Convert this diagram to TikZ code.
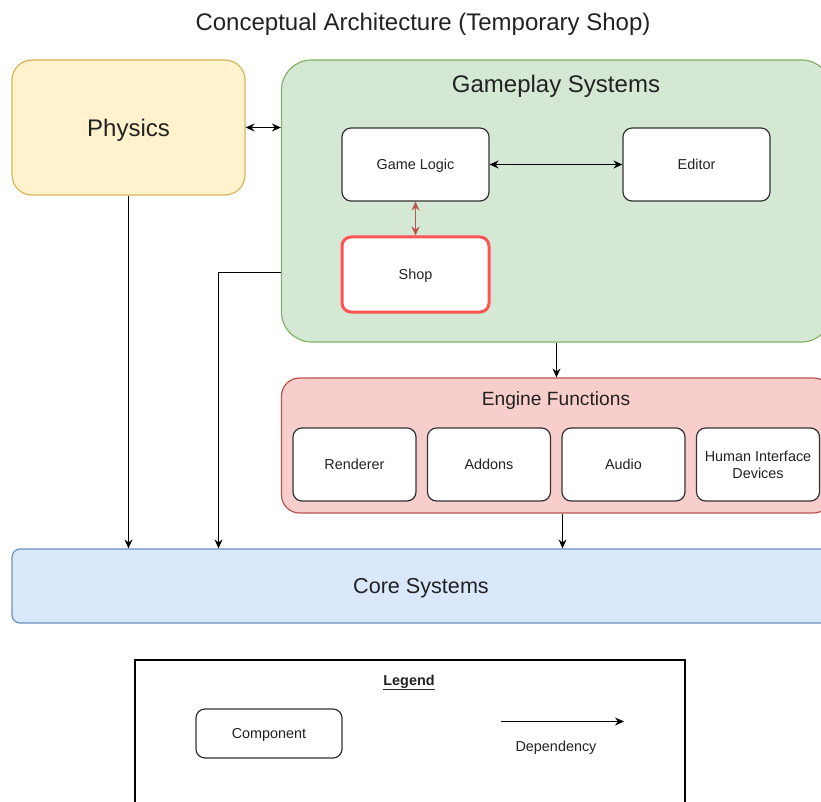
\documentclass[tikz,border=0pt]{standalone}
\usepackage{fontspec}
\setmainfont{Liberation Sans}
\usetikzlibrary{arrows.meta}
\definecolor{txt}{HTML}{222222}
\definecolor{physfill}{HTML}{FFF2CC}
\definecolor{physline}{HTML}{D6B656}
\definecolor{gpfill}{HTML}{D5E8D4}
\definecolor{gpline}{HTML}{82B366}
\definecolor{engfill}{HTML}{F8CECC}
\definecolor{engline}{HTML}{B85450}
\definecolor{corefill}{HTML}{DAE8FC}
\definecolor{coreline}{HTML}{6C8EBF}
\definecolor{shopline}{HTML}{FF5555}
\definecolor{compline}{HTML}{333333}
\tikzset{
  big/.style={font=\fontsize{24}{28}\selectfont, text=txt, text height=17.2pt, text depth=0pt},
  mid/.style={font=\fontsize{19.2}{23}\selectfont, text=txt, text height=13.8pt, text depth=0pt},
  coretext/.style={font=\fontsize{21.6}{25}\selectfont, text=txt, text height=15.5pt, text depth=0pt},
  small/.style={font=\fontsize{14.4}{17}\selectfont, text=txt, align=center, text height=10.3pt, text depth=0pt},
  multi/.style={font=\fontsize{14.4}{17}\selectfont, text=txt, align=center},
  comp/.style={draw=compline, fill=white, rounded corners=9pt, line width=1.2pt, inner sep=0pt},
  grp/.style={line width=1.2pt, inner sep=0pt},
  dep/.style={line width=1.1pt, -{Stealth[length=9pt,width=8pt,inset=3pt]}},
  bidep/.style={line width=1.1pt, {Stealth[length=9pt,width=8pt,inset=3pt]}-{Stealth[length=9pt,width=8pt,inset=3pt]}},
}
\begin{document}
\begin{tikzpicture}[x=1pt,y=-1pt]
\useasboundingbox (0,0) rectangle (821,802);
% title
\node[big] (title) at (423,22) {Conceptual Architecture (Temporary Shop)};
% groups
\node[grp, draw=physline, fill=physfill, rounded corners=20pt, minimum width=233pt, minimum height=135pt, big] (phys) at (128.5,127.5) {Physics};
\node[grp, draw=gpline, fill=gpfill, rounded corners=30pt, minimum width=550pt, minimum height=282pt] (gp) at (556.5,201) {};
\node[big] (gptitle) at (556,84) {Gameplay Systems};
\node[grp, draw=engline, fill=engfill, rounded corners=18pt, minimum width=550pt, minimum height=135pt] (eng) at (556.5,445.5) {};
\node[mid] (engtitle) at (556,399) {Engine Functions};
\node[grp, draw=coreline, fill=corefill, rounded corners=8pt, minimum width=818pt, minimum height=74pt, coretext] (core) at (421,586) {Core Systems};
% components
\node[comp, small, minimum width=147pt, minimum height=73pt] (gl) at (415.5,164.5) {Game Logic};
\node[comp, small, minimum width=147pt, minimum height=73pt] (ed) at (696.5,164.5) {Editor};
\node[comp, small, draw=shopline, line width=3pt, minimum width=147pt, minimum height=75pt] (shop) at (415.5,274.5) {Shop};
\node[comp, small, minimum width=123pt, minimum height=73pt] (ren) at (354.5,464.5) {Renderer};
\node[comp, small, minimum width=123pt, minimum height=73pt] (add) at (489,464.5) {Addons};
\node[comp, small, minimum width=123pt, minimum height=73pt] (aud) at (623.5,464.5) {Audio};
\node[comp, multi, minimum width=123pt, minimum height=73pt] (hid) at (758,464.5) {Human Interface\\Devices};
% connectors
\draw[bidep] (phys.east) -- (phys.east -| gp.west);
\draw[bidep] (gl.east) -- (ed.west);
\draw[bidep, draw=engline, line width=1.5pt] (gl.south) -- (shop.north);
\draw[dep] (gp.south) -- (eng.north);
\coordinate (es) at ([xshift=6pt]eng.south);
\draw[dep] (es) -- (es |- core.north);
\draw[dep] (phys.south) -- (phys.south |- core.north);
\coordinate (g1) at (218.5,272.5);
\draw[dep] (gp.west |- g1) -- (g1) -- (g1 |- core.north);
% legend
\node[draw=black, line width=1.3pt, minimum width=550pt, minimum height=170pt, inner sep=0pt] (leg) at (410,745) {};
\node[small, font=\fontsize{14.4}{17}\selectfont\bfseries] (legtitle) at (409,680) {\underline{Legend}};
\node[comp, small, minimum width=146pt, minimum height=49pt] (lcomp) at (269,733.5) {Component};
\coordinate (la) at (501,721.5);
\coordinate (lb) at (624,721.5);
\draw[dep] (la) -- (lb);
\node[small] (ldep) at (556,746) {Dependency};
\end{tikzpicture}
\end{document}
